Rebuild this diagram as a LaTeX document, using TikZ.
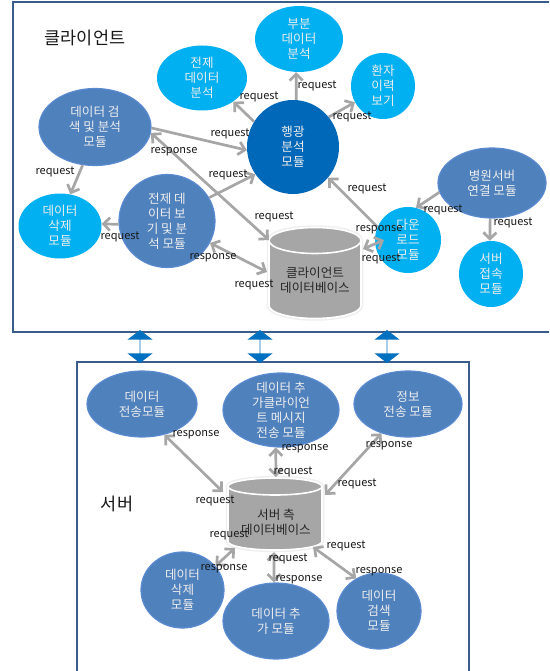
\documentclass[tikz,border=0pt]{standalone}
\usepackage{fontspec}
\setmainfont{Noto Sans CJK KR}
\usetikzlibrary{arrows.meta,shapes.geometric,shapes.arrows,calc}
\definecolor{frameblue}{HTML}{385D8A}
\definecolor{lightb}{HTML}{00B0F0}
\definecolor{deepb}{HTML}{0068B8}
\definecolor{midb}{HTML}{4F81BD}
\definecolor{midedge}{HTML}{5A8AD0}
\definecolor{linkgray}{HTML}{A6A6A6}
\definecolor{arrowb}{HTML}{0070C0}
\definecolor{dbglow}{HTML}{EFEFEF}
\newcommand{\dbdrumpath}[3]{(#1.north west) ++(0,#3)
    arc[start angle=180,end angle=0,x radius=#2pt,y radius=#3pt]
    -- ($(#1.south east)+(0,-#3)$)
    arc[start angle=0,end angle=-180,x radius=#2pt,y radius=#3pt]
    -- cycle}
\newcommand{\dbdrum}[3]{%
  \draw[dbhalo] \dbdrumpath{#1}{#2}{#3};
  \draw[dbskin] \dbdrumpath{#1}{#2}{#3};
  \draw[dbrim] (#1.north west) ++(0,#3)
    arc[start angle=180,end angle=360,x radius=#2pt,y radius=#3pt];
}
\tikzset{
  modbase/.style={ellipse,inner sep=-7pt,align=center,text=white!93!black,
    font=\fontsize{12.6}{15}\selectfont},
  lightmod/.style={modbase,fill=lightb},
  deepmod/.style={modbase,fill=deepb},
  midmod/.style={modbase,fill=midb,draw=midedge,line width=1.2pt},
  dbase/.style={rectangle,inner sep=0pt,outer sep=0pt},
  dbhalo/.style={draw=dbglow,line width=4.5pt},
  dbskin/.style={fill=linkgray,draw=white,line width=1.6pt},
  dbrim/.style={draw=white,line width=1.6pt},
  dbtext/.style={align=center,text=black!85,font=\fontsize{12.6}{15}\selectfont,inner sep=0pt},
  frame/.style={draw=frameblue,line width=1.7pt},
  link/.style={draw=linkgray,line width=2.7pt},
  to/.style={link,-{Straight Barb[length=6.5pt,width=13pt]}},
  both/.style={link,{Straight Barb[length=6.5pt,width=13pt]}-{Straight Barb[length=6.5pt,width=13pt]}},
  msg/.style={font=\fontsize{11}{12}\selectfont,text=black!90,inner sep=0pt},
  title/.style={font=\fontsize{17.5}{18}\selectfont,text=black!90,inner sep=0pt},
  bridge/.style={double arrow,fill=arrowb,rotate=90,minimum width=25pt,minimum height=33pt,
    double arrow head extend=5.5pt,double arrow tip angle=105,inner sep=0pt},
}
\begin{document}
\begin{tikzpicture}[x=1pt,y=-1pt]
\useasboundingbox (0,0) rectangle (549,671);
\clip (0,0) rectangle (549,671);
\fill[white] (0,0) rectangle (549,671);
% frames
\draw[frame] (13,2) rectangle (560,332);
\draw[frame] (77,362) rectangle (469,690);
\node[title] (ctitle) at (85,38) {클라이언트};
\node[title] (stitle) at (117,504) {서버};
% bridges
\node[bridge] (b1) at (140,346.5) {};
\node[bridge] (b2) at (260,346.5) {};
\node[bridge] (b3) at (387,346.5) {};
% client modules
\node[lightmod,minimum width=90pt,minimum height=65pt] (whole) at (202,78) {전제\\데이터\\분석};
\node[lightmod,minimum width=88pt,minimum height=66pt] (part) at (299,39) {부분\\데이터\\분석};
\node[lightmod,minimum width=64pt,minimum height=66pt] (hist) at (383,86) {환자\\이력\\보기};
\node[deepmod,minimum width=92pt,minimum height=94pt] (trend) at (293,147) {행광\\분석\\모듈};
\node[midmod,minimum width=112pt,minimum height=77pt] (search) at (95,127) {데이터 검\\색 및 분석\\모듈};
\node[lightmod,minimum width=83pt,minimum height=65pt] (del) at (60,226) {데이터\\삭제\\모듈};
\node[midmod,minimum width=96pt,minimum height=93pt] (view) at (167,221) {전제 데\\이터 보\\기 및 분\\석 모듈};
\node[midmod,minimum width=108pt,minimum height=70pt] (hosp) at (492,183) {병원서버\\연결 모듈};
\node[lightmod,minimum width=66pt,minimum height=66pt] (down) at (408,240) {다운\\로드\\모듈};
\node[lightmod,minimum width=64pt,minimum height=66pt] (acc) at (491,274) {서버\\접속\\모듈};
\node[dbase,minimum width=92pt,minimum height=91pt] (cdb) at (315,273) {};
\dbdrum{cdb}{46}{13}
\node[dbtext] (cdbt) at (315,280) {클라이언트\\데이터베이스};
\coordinate (ca) at (269,240);
\coordinate (cb) at (267,272);
\coordinate (cc) at (363,249);
\coordinate (cd) at (384,240);
% server modules
\node[midmod,minimum width=110pt,minimum height=66pt] (send) at (142,404) {데이터\\전송모듈};
\node[midmod,minimum width=116pt,minimum height=74pt] (addmsg) at (281,410) {데이터 추\\가클라이언\\트 메시지\\전송 모듈};
\node[midmod,minimum width=108pt,minimum height=66pt] (info) at (408,404) {정보\\전송 모듈};
\node[midmod,minimum width=83pt,minimum height=76pt] (sdel) at (182.5,590) {데이터\\삭제\\모듈};
\node[midmod,minimum width=106pt,minimum height=76pt] (sadd) at (276,621) {데이터 추\\가 모듈};
\node[midmod,minimum width=84pt,minimum height=76pt] (sfind) at (379,611) {데이터\\검색\\모듈};
\node[dbase,minimum width=94pt,minimum height=72pt] (sdb) at (275,514) {};
\dbdrum{sdb}{47}{8.5}
\node[dbtext] (sdbt) at (276,522) {서버 측\\데이터베이스};
\coordinate (sa) at (223,492);
\coordinate (sb) at (276,477);
\coordinate (sc) at (325,495);
\coordinate (sd) at (235,548);
\coordinate (se) at (274,552);
\coordinate (sf) at (313,547);
% client connectors
\draw[to] (search.-108) -- (del.72);
\draw[to] (search.-1) -- (trend.184);
\draw[both] (search.-6) -- (ca);
\draw[to] (view.29) -- (trend.216);
\draw[to] (view.184) -- (del.3);
\draw[both] (view.-27) -- (cb);
\draw[to] (trend.147) -- (whole.-37);
\draw[to] (trend.86) -- (part.-95);
\draw[to] (trend.40) -- (hist.210);
\draw[to] (down.157) -- (trend.-41);
\draw[both] (cd) -- (cc);
\draw[to] (hosp.-170) -- (down.76);
\draw[to] (hosp.-93) -- (acc.92);
% server connectors
\draw[both] (send.-54) -- (sa);
\draw[both] (addmsg.-98) -- (sb);
\draw[both] (info.-132) -- (sc);
\draw[both] (sdel.36) -- (sd);
\draw[both] (sadd.93) -- (se);
\draw[both] (sfind.125) -- (sf);
% client messages
\node[msg] (m1) at (259,97) {request};
\node[msg] (m2) at (230,134) {request};
\node[msg] (m3) at (174,152) {response};
\node[msg] (m4) at (55,172) {request};
\node[msg] (m5) at (228,175) {request};
\node[msg] (m6) at (120,237) {request};
\node[msg] (m7) at (213,258) {response};
\node[msg] (m8) at (254,285) {request};
\node[msg] (m9) at (274,217) {request};
\node[msg] (m10) at (317,86) {request};
\node[msg] (m11) at (352,117) {request};
\node[msg] (m12) at (367,189) {request};
\node[msg] (m13) at (443,210) {request};
\node[msg] (m14) at (513,223) {request};
\node[msg] (m15) at (379,230) {response};
\node[msg] (m16) at (381,259) {request};
% server messages
\node[msg] (n1) at (196,435) {response};
\node[msg] (n2) at (305,449) {response};
\node[msg] (n3) at (389,446) {response};
\node[msg] (n4) at (293,472) {request};
\node[msg] (n5) at (357,484) {request};
\node[msg] (n6) at (215,501) {request};
\node[msg] (n7) at (229,535) {request};
\node[msg] (n8) at (346,546) {request};
\node[msg] (n9) at (288,559) {request};
\node[msg] (n10) at (224,569) {response};
\node[msg] (n11) at (299,580) {response};
\node[msg] (n12) at (379,572) {response};
\end{tikzpicture}
\end{document}
